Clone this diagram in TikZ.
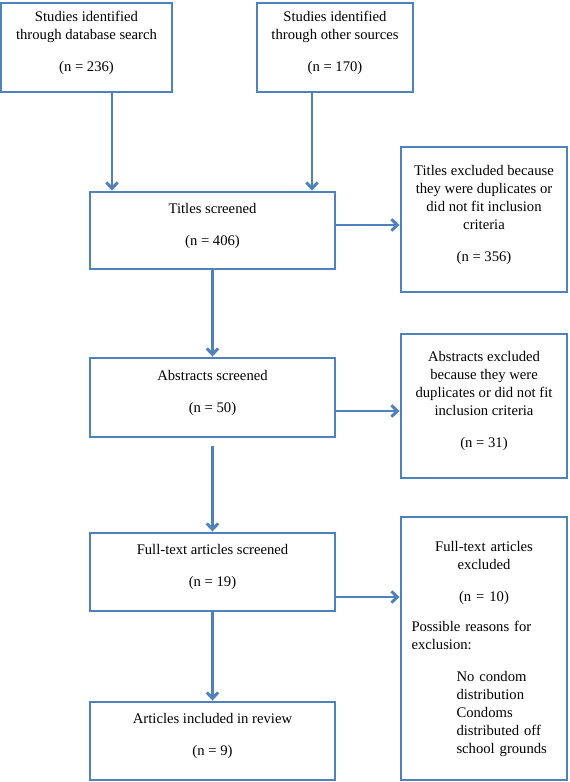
\documentclass[tikz,border=0pt]{standalone}
\usepackage{fontspec}
\setmainfont{Liberation Serif}
\usetikzlibrary{arrows.meta}
\usetikzlibrary{calc}
\definecolor{flowblue}{RGB}{79,129,189}
\newcommand{\exline}[2][0pt]{\makebox[108.75pt][l]{\hspace*{#1}#2}}
\tikzset{
  box/.style={draw=flowblue, line width=2.2pt, inner sep=0pt, align=center,
    font=\fontsize{11}{13.5}\selectfont, text depth=9.5pt},
  flow/.style={draw=flowblue, line width=2.2pt, -{Straight Barb[length=4.5pt,width=8.5pt]}}
}

\begin{document}
\begin{tikzpicture}[x=0.75pt,y=0.75pt,yscale=-1,xscale=1]
\useasboundingbox (0,0) rectangle (570,782);

%Shape: Rectangle [sources]
\node [box, minimum width=128.25pt, minimum height=66.75pt] (srcdb) at (86.5,47.5) {Studies identified\\through database search\\[10.5pt](n = 236)};
\node [box, minimum width=117pt, minimum height=66.75pt] (srcother) at (335,47.5) {Studies identified\\through other sources\\[10.5pt](n = 170)};

%Shape: Rectangle [screening]
\node [box, minimum width=183.75pt, minimum height=57.75pt] (titles) at (212.5,230.5) {Titles screened\\[10.5pt](n = 406)};
\node [box, minimum width=183.75pt, minimum height=59.25pt] (abstracts) at (212.5,397.5) {Abstracts screened\\[10.5pt](n = 50)};
\node [box, minimum width=183.75pt, minimum height=58.5pt] (fulltext) at (212.5,572) {Full-text articles screened\\[10.5pt](n = 19)};
\node [box, minimum width=183.75pt, minimum height=58.5pt] (included) at (212.5,741) {Articles included in review\\[10.5pt](n = 9)};

%Shape: Rectangle [exclusions]
\node [box, minimum width=124.5pt, minimum height=108.75pt] (titlesex) at (484,219.5) {Titles excluded because\\they were duplicates or\\did not fit inclusion\\criteria\\[10.5pt](n = 356)};
\node [box, minimum width=124.5pt, minimum height=108pt] (abstractsex) at (484,406) {Abstracts excluded\\because they were\\duplicates or did not fit\\inclusion criteria\\[10.5pt](n = 31)};
\node [box, minimum width=124.5pt, minimum height=197.25pt, text width=108.75pt, text depth=] (fulltextex) at (484,648.5) {Full-text articles\\excluded\\[10.5pt](n = 10)\\[9pt]
  \exline{Possible reasons for}\\\exline{exclusion:}\\[10.5pt]
  \exline[33.75pt]{No condom}\\\exline[33.75pt]{distribution}\\\exline[33.75pt]{Condoms}\\\exline[33.75pt]{distributed off}\\\exline[33.75pt]{school grounds}\\[3pt]};

% Connection
\draw [flow] ($(srcdb.south)+(25.5,0)$) coordinate (a1) -- (a1 |- titles.north);
% Connection
\draw [flow] ($(srcother.south)+(-23,0)$) coordinate (a2) -- (a2 |- titles.north);
% Connection
\draw [flow] ($(titles.east)+(0,-5.5)$) coordinate (a3) -- (a3 -| titlesex.west);
% Connection
\draw [flow] ($(abstracts.east)+(0,13.5)$) coordinate (a4) -- (a4 -| abstractsex.west);
% Connection
\draw [flow] ($(fulltext.east)+(0,25)$) coordinate (a5) -- (a5 -| fulltextex.west);
% Connection
\draw [flow] (titles) -- (abstracts);
% Connection
\draw [flow, shorten <=6pt] (abstracts) -- (fulltext);
% Connection
\draw [flow] (fulltext) -- (included);

\end{tikzpicture}
\end{document}
